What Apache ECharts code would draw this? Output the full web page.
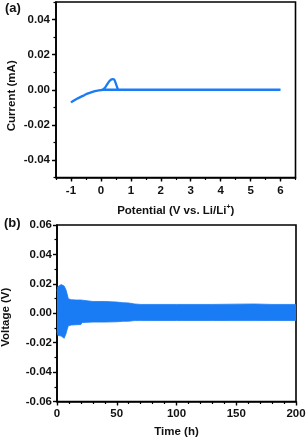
<!DOCTYPE html>
<html><head><meta charset="utf-8">
<script src="https://cdn.jsdelivr.net/npm/echarts@6/dist/echarts.min.js"></script>
<style>html,body{margin:0;padding:0;background:#fff}#c{width:307px;height:440px}</style>
</head><body><div id="c"></div>
<script>
// Panel (a): cyclic voltammetry loop
const cvPotential = [6, 4, 2, 1, 0.6, 0.3, 0.1, 0.0, -0.2, -0.4, -0.5, -0.6, -0.8, -1.0, -0.8, -0.6, -0.5, -0.4, -0.2, 0.0, 0.05, 0.15, 0.28, 0.39, 0.45, 0.52, 0.59, 1, 2, 4, 6];
const cvCurrent = [0, 0, 0, 0, 0, 0, 0, -0.0002, -0.0008, -0.0019, -0.0026, -0.0035, -0.0051, -0.0072, -0.0051, -0.0035, -0.0026, -0.0019, -0.0008, -0.0002, 0.0, 0.0015, 0.0049, 0.0060, 0.0057, 0.0025, 0.0, 0, 0, 0, 0];
const aYLabels = [-0.04, -0.02, 0.00, 0.02, 0.04];
const aXLabels = [-1, 0, 1, 2, 3, 4, 5, 6];
// Panel (b): voltage envelope over time
const timeH = [0, 0.6, 2, 3.5, 5, 6, 7.5, 8.5, 9.5, 12, 16, 20, 21, 30, 40, 50, 55, 60, 65, 70, 100, 130, 150, 165, 180, 200];
const voltUpper = [0.015, 0.018, 0.017, 0.0195, 0.019, 0.0185, 0.016, 0.013, 0.0098, 0.0092, 0.009, 0.009, 0.0082, 0.008, 0.008, 0.0076, 0.0072, 0.007, 0.0063, 0.006, 0.006, 0.006, 0.0062, 0.0063, 0.006, 0.006];
const voltLower = [-0.012, -0.015, -0.016, -0.0155, -0.016, -0.017, -0.014, -0.011, -0.0085, -0.008, -0.0078, -0.0077, -0.0063, -0.006, -0.006, -0.0058, -0.0055, -0.0054, -0.005, -0.005, -0.0049, -0.0049, -0.005, -0.005, -0.0049, -0.0049];

const blue = '#1a7cf5';
const font = 'Liberation Sans';
const txt = {color: '#111', fontFamily: font, fontWeight: 'bold', fontSize: 11.5};
const axLine = {show: true, onZero: false, lineStyle: {color: '#000', width: 1.6}};

const cvData = cvPotential.map((x, i) => [x, cvCurrent[i]]);
const upData = timeH.map((t, i) => [t, voltUpper[i]]);
const lowData = timeH.map((t, i) => [t, voltLower[i]]);

const chart = echarts.init(document.getElementById('c'), null, {renderer: 'canvas'});
chart.setOption({
  animation: false,
  backgroundColor: '#fff',
  grid: [
    {left: 56, top: 2, width: 239.5, height: 175.5, show: true, borderColor: '#000', borderWidth: 1.6, containLabel: false, outerBoundsMode: 'none'},
    {left: 57, top: 225, width: 239, height: 176.5, show: true, borderColor: '#000', borderWidth: 1.6, containLabel: false, outerBoundsMode: 'none'}
  ],
  xAxis: [
    {gridIndex: 0, type: 'value', min: -1.5, max: 6.5, interval: 0.5,
     axisLine: axLine, splitLine: {show: false},
     axisTick: {customValues: aXLabels, length: 4, lineStyle: {color: '#000', width: 1.4}},
     axisLabel: Object.assign({customValues: aXLabels, margin: 7, formatter: v => String(v)}, txt),
     name: 'Potential (V vs. Li/Li{s|+})', nameLocation: 'middle', nameGap: 26, nameMoveOverlap: false,
     nameTextStyle: Object.assign({}, txt, {fontSize: 11.5, rich: {s: {fontSize: 7, fontWeight: 'bold', fontFamily: font, color: '#111', verticalAlign: 'top', lineHeight: 14}}})},
    {gridIndex: 0, type: 'value', min: -1.5, max: 6.5, interval: 0.5, position: 'bottom',
     axisLine: {show: false, onZero: false}, splitLine: {show: false}, axisLabel: {show: false},
     axisTick: {length: 2.5, lineStyle: {color: '#000', width: 1.2}}},
    {gridIndex: 1, type: 'value', min: 0, max: 200, interval: 50,
     axisLine: axLine, splitLine: {show: false},
     axisTick: {length: 4, lineStyle: {color: '#000', width: 1.4}},
     minorTick: {show: true, splitNumber: 5, length: 2.5, lineStyle: {color: '#000', width: 1.2}},
     axisLabel: Object.assign({margin: 6}, txt),
     name: 'Time (h)', nameLocation: 'middle', nameGap: 24, nameMoveOverlap: false,
     nameTextStyle: Object.assign({}, txt, {fontSize: 11.5})}
  ],
  yAxis: [
    {gridIndex: 0, type: 'value', min: -0.05, max: 0.05, interval: 0.01,
     axisLine: axLine, splitLine: {show: false},
     axisTick: {customValues: aYLabels, length: 4, lineStyle: {color: '#000', width: 1.4}},
     axisLabel: Object.assign({customValues: aYLabels, margin: 6, formatter: v => v.toFixed(2)}, txt),
     name: 'Current (mA)', nameLocation: 'middle', nameGap: 38, nameRotate: 90, nameMoveOverlap: false,
     nameTextStyle: Object.assign({}, txt, {fontSize: 11.5, padding: [0, 12, 0, 0]})},
    {gridIndex: 0, type: 'value', min: -0.05, max: 0.05, interval: 0.01, position: 'left',
     axisLine: {show: false, onZero: false}, splitLine: {show: false}, axisLabel: {show: false},
     axisTick: {length: 2.5, lineStyle: {color: '#000', width: 1.2}}},
    {gridIndex: 1, type: 'value', min: -0.06, max: 0.06, interval: 0.02,
     axisLine: axLine, splitLine: {show: false},
     axisTick: {length: 4, lineStyle: {color: '#000', width: 1.4}},
     minorTick: {show: true, splitNumber: 2, length: 2.5, lineStyle: {color: '#000', width: 1.2}},
     axisLabel: Object.assign({margin: 5, formatter: v => v.toFixed(2)}, txt),
     name: 'Voltage (V)', nameLocation: 'middle', nameGap: 45, nameRotate: 90, nameMoveOverlap: false,
     nameTextStyle: Object.assign({}, txt, {fontSize: 11.5, padding: [0, 8, 0, 0]})}
  ],
  graphic: [
    {type: 'text', left: 5, top: 2, style: {text: '(a)', font: 'bold 13px "Liberation Sans"', fill: '#111'}},
    {type: 'text', left: 4, top: 217, style: {text: '(b)', font: 'bold 13px "Liberation Sans"', fill: '#111'}}
  ],
  series: [
    {type: 'line', xAxisIndex: 0, yAxisIndex: 0, data: cvData, showSymbol: false, smooth: 0.2,
     lineStyle: {color: blue, width: 2.3}, z: 3},
    {type: 'line', xAxisIndex: 2, yAxisIndex: 2, data: upData,
     showSymbol: false, lineStyle: {width: 0.8, color: blue}, areaStyle: {color: blue, opacity: 1, origin: 0},
     markLine: {silent: true, symbol: 'none', label: {show: false}, lineStyle: {color: blue, width: 2, type: 'solid'}, data: [{yAxis: 0}]}},
    {type: 'line', xAxisIndex: 2, yAxisIndex: 2, data: lowData,
     showSymbol: false, lineStyle: {width: 0.8, color: blue}, areaStyle: {color: blue, opacity: 1, origin: 0}}
  ]
});
</script></body></html>
